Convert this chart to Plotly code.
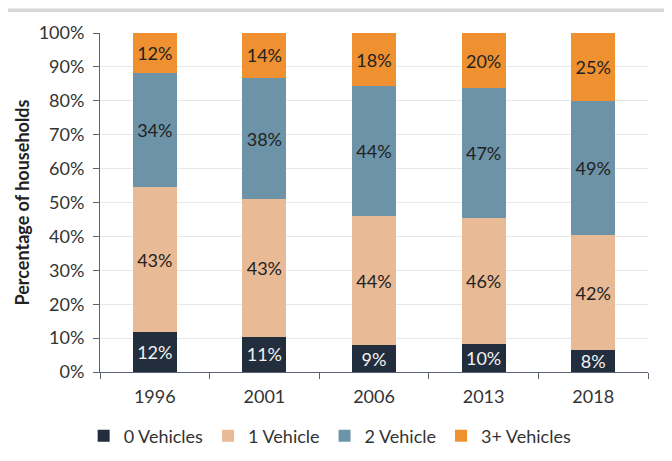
import plotly.graph_objects as go

years = ["1996", "2001", "2006", "2013", "2018"]
series_names = ["0 Vehicles", "1 Vehicle", "2 Vehicle", "3+ Vehicles"]
v0 = [12, 11, 9, 10, 8]
v1 = [43, 43, 44, 46, 42]
v2 = [34, 38, 44, 47, 49]
v3 = [12, 14, 18, 20, 25]
values = [v0, v1, v2, v3]
colors = ["#222e3d", "#e9ba96", "#6c93a7", "#ef9130"]
text_colors = ["#f2f2f2", "#222222", "#222222", "#222222"]

fig = go.Figure()
for name, vals, col, tc in zip(series_names, values, colors, text_colors):
    fig.add_trace(go.Bar(
        x=years, y=vals, name=name,
        marker=dict(color=col, line=dict(width=0)),
        text=[f"{v}%" for v in vals],
        textposition="inside", insidetextanchor="middle",
        textangle=0,
        textfont=dict(color=tc, size=18, family="Lato"),
        width=0.4,
    ))

fig.update_layout(
    barmode="stack", barnorm="percent",
    width=656, height=445,
    margin=dict(l=92, r=16, t=25, b=81, autoexpand=False),
    paper_bgcolor="white", plot_bgcolor="white",
    font=dict(family="Lato", size=18, color="#333333"),
    showlegend=True,
    legend=dict(orientation="h", x=0.42, xanchor="center",
                yref="container", y=(445 - 428) / 445, yanchor="middle",
                font=dict(size=18, color="#333333"), traceorder="normal",
                itemwidth=30, tracegroupgap=0),
    uniformtext=dict(minsize=18, mode="show"),
)
fig.update_yaxes(
    range=[0, 100], dtick=10, ticksuffix="%",
    showgrid=True, gridcolor="#e8e8e8", gridwidth=1,
    showline=True, linecolor="#5a6470", linewidth=1,
    ticks="outside", ticklen=6, tickcolor="#5a6470",
    ticklabelstandoff=5,
    tickfont=dict(size=18, color="#333333"),
    title=dict(text="<b>Percentage of households</b>", font=dict(size=18, color="#222222"), standoff=4),
    zeroline=False, automargin=False,
)
fig.update_xaxes(
    showline=True, linecolor="#5a6470", linewidth=1,
    ticks="outside", ticklen=6, tickcolor="#5a6470", tickson="boundaries",
    ticklabelstandoff=8, automargin=False,
    tickfont=dict(size=18, color="#333333"),
)
fig.add_shape(type="rect", xref="paper", yref="paper",
              x0=-0.2, x1=1.1, y0=(364 - 4) / 339, y1=(364 - 0.5) / 339,
              fillcolor="#d6d6d6", line=dict(width=0), layer="above")
fig.write_html("out.html")
